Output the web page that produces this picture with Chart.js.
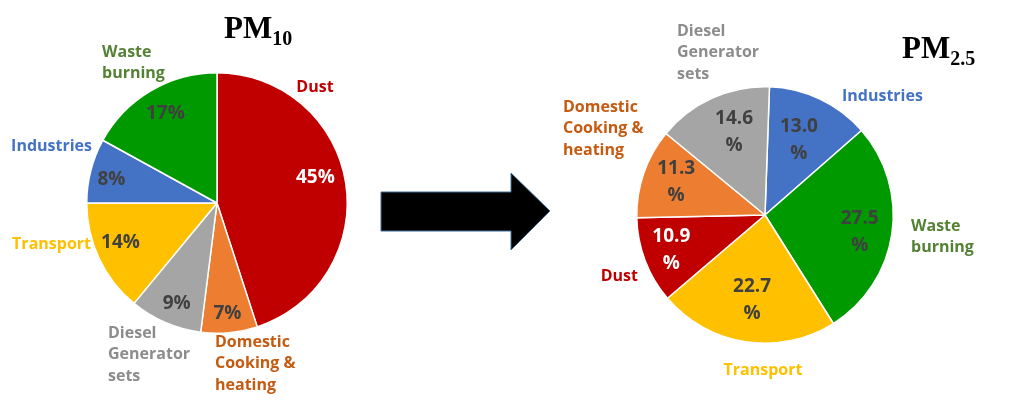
<!DOCTYPE html>
<html><head><meta charset="utf-8">
<script src="https://cdn.jsdelivr.net/npm/chart.js@4.4.0/dist/chart.umd.min.js"></script>
<style>
html,body{margin:0;padding:0;background:#fff;width:1024px;height:407px;overflow:hidden;}
#w1{position:absolute;left:0;top:0;width:560px;height:407px;}
#w2{position:absolute;left:560px;top:0;width:464px;height:407px;}
</style></head><body>
<div id="w1"><canvas id="c1"></canvas></div>
<div id="w2"><canvas id="c2"></canvas></div>
<script>
// ---- DATA ----
const pm10Categories = ['Dust', 'Domestic Cooking & heating', 'Diesel Generator sets', 'Transport', 'Industries', 'Waste burning'];
const pm10Values = [45, 7, 9, 14, 8, 17];
const pm25Categories = ['Industries', 'Waste burning', 'Transport', 'Dust', 'Domestic Cooking & heating', 'Diesel Generator sets'];
const pm25Values = [13.0, 27.5, 22.7, 10.9, 11.3, 14.6];
const pm10Title = ['PM', '10'];
const pm25Title = ['PM', '2.5'];

// ---- STYLE ----
const sliceColors = {
  'Dust': '#C00000', 'Domestic Cooking & heating': '#ED7D31', 'Diesel Generator sets': '#A5A5A5',
  'Transport': '#FFC000', 'Industries': '#4472C4', 'Waste burning': '#009900'
};
const nameColors = {
  'Dust': '#C00000', 'Domestic Cooking & heating': '#C55A11', 'Diesel Generator sets': '#8C8C8C',
  'Transport': '#FFC000', 'Industries': '#4472C4', 'Waste burning': '#548235'
};
const nameLines = {
  'Dust': ['Dust'], 'Domestic Cooking & heating': ['Domestic', 'Cooking &', 'heating'],
  'Diesel Generator sets': ['Diesel', 'Generator', 'sets'], 'Transport': ['Transport'],
  'Industries': ['Industries'], 'Waste burning': ['Waste', 'burning']
};
const valueColor = c => c === 'Dust' ? '#FFFFFF' : '#404040';
const LABEL_FONT = 'bold 16px "Open Sans"';
const VALUE_FONT = 'bold 19px "Open Sans"';

// layout of texts relative to pie centre: [dx, dy, align] for names; [radiusFrac, angleDeltaDeg] for values
const pm10NamePos = {
  'Dust': [98, -116, 'center'], 'Domestic Cooking & heating': [-2, 139, 'left'],
  'Diesel Generator sets': [-109, 130, 'left'], 'Transport': [-126, 41, 'right'],
  'Industries': [-125, -57, 'right'], 'Waste burning': [-115, -151, 'left']
};
const pm10ValPos = {
  'Dust': [0.78, -5.5], 'Domestic Cooking & heating': [0.85, 0], 'Diesel Generator sets': [0.83, -1.5],
  'Transport': [0.80, 3], 'Industries': [0.83, -2], 'Waste burning': [0.79, 0.5]
};
const pm25NamePos = {
  'Industries': [77, -119, 'left'], 'Waste burning': [146, 11, 'left'], 'Transport': [-2, 155, 'center'],
  'Dust': [-127, 61, 'right'], 'Domestic Cooking & heating': [-202, -108, 'left'],
  'Diesel Generator sets': [-88, -184, 'left']
};
const pm25ValPos = {
  'Industries': [0.64, -1], 'Waste burning': [0.75, 1.8], 'Transport': [0.67, 0],
  'Dust': [0.78, 0.3], 'Domestic Cooking & heating': [0.74, 1.5], 'Diesel Generator sets': [0.69, 3.8]
};

function textPlugin(cats, fmt, namePos, valPos, title, titlePos, drawArrow) {
  return {
    id: 'pieText',
    afterDatasetsDraw(chart) {
      const ctx = chart.ctx;
      const arcs = chart.getDatasetMeta(0).data;
      const cx = arcs[0].x, cy = arcs[0].y, R = arcs[0].outerRadius;
      ctx.save();
      ctx.textBaseline = 'middle';
      arcs.forEach((arc, i) => {
        const cat = cats[i];
        const v = chart.data.datasets[0].data[i];
        // value label
        const [f, d] = valPos[cat];
        const a = (arc.startAngle + arc.endAngle) / 2 + d * Math.PI / 180;
        const x = cx + Math.cos(a) * R * f, y = cy + Math.sin(a) * R * f;
        const lines = fmt(v);
        ctx.font = VALUE_FONT;
        ctx.fillStyle = valueColor(cat);
        ctx.textAlign = 'center';
        const lh = 27;
        lines.forEach((t, k) => ctx.fillText(t, x, y + (k - (lines.length - 1) / 2) * lh));
        // category label
        const [dx, dy, al] = namePos[cat];
        ctx.font = LABEL_FONT;
        ctx.fillStyle = nameColors[cat];
        ctx.textAlign = al;
        nameLines[cat].forEach((t, k) => ctx.fillText(t, cx + dx, cy + dy + k * 21.5));
      });
      // title
      ctx.fillStyle = '#000';
      ctx.textAlign = 'left';
      ctx.textBaseline = 'alphabetic';
      ctx.font = 'bold 31px "Liberation Serif"';
      ctx.fillText(title[0], titlePos[0], titlePos[1]);
      const w = ctx.measureText(title[0]).width;
      ctx.font = 'bold 20px "Liberation Serif"';
      ctx.fillText(title[1], titlePos[0] + w, titlePos[1] + 7);
      if (drawArrow) {
        ctx.beginPath();
        ctx.moveTo(381, 192); ctx.lineTo(511, 192); ctx.lineTo(511, 173); ctx.lineTo(550, 211);
        ctx.lineTo(511, 250); ctx.lineTo(511, 231); ctx.lineTo(381, 231); ctx.closePath();
        ctx.fillStyle = '#000'; ctx.fill();
        ctx.lineWidth = 1; ctx.strokeStyle = '#41719C'; ctx.stroke();
      }
      ctx.restore();
    }
  };
}

function makePie(id, cats, vals, rotation, padding, plugin) {
  return new Chart(document.getElementById(id), {
    type: 'pie',
    data: {
      labels: cats,
      datasets: [{
        data: vals,
        backgroundColor: cats.map(c => sliceColors[c]),
        borderColor: '#FFFFFF',
        borderWidth: 1.5
      }]
    },
    options: {
      responsive: true, maintainAspectRatio: false, animation: false,
      rotation: rotation,
      layout: { padding: padding },
      plugins: { legend: { display: false }, tooltip: { enabled: false } }
    },
    plugins: [plugin]
  });
}

makePie('c1', pm10Categories, pm10Values, 0,
  { left: 86, top: 72, right: 212, bottom: 73 },
  textPlugin(pm10Categories, v => [v + '%'], pm10NamePos, pm10ValPos, pm10Title, [224, 38], true));

makePie('c2', pm25Categories, pm25Values, 2,
  { left: 76, top: 86, right: 130, bottom: 63 },
  textPlugin(pm25Categories, v => [v.toFixed(1), '%'], pm25NamePos, pm25ValPos, pm25Title, [342, 58], false));
</script>
</body></html>
